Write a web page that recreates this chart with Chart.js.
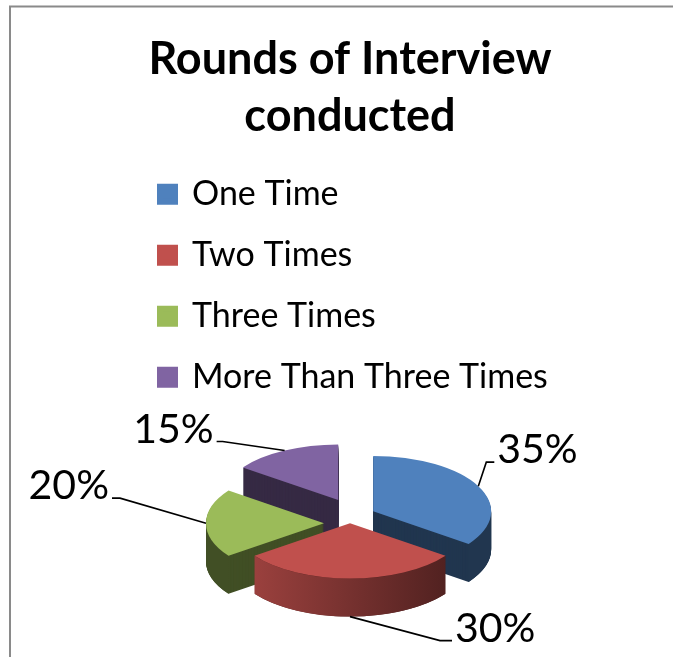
<!DOCTYPE html>
<html>
<head>
<meta charset="utf-8">
<title>Rounds of Interview conducted</title>
<script src="https://cdn.jsdelivr.net/npm/chart.js@4.4.1/dist/chart.umd.min.js"></script>
<style>
  html, body { margin: 0; padding: 0; background: #fff; }
  canvas { display: block; }
</style>
</head>
<body>
<canvas id="chart" width="673" height="657"></canvas>
<script>
// ---- data ----
const categories = ['One Time', 'Two Times', 'Three Times', 'More Than Three Times'];
const shares = [35, 30, 20, 15];
const sliceColors = ['#4f81bd', '#c0504d', '#9bbb59', '#8064a2'];
const titleLines = ['Rounds of Interview', 'conducted'];

// ---- look of the tilted pie ----
const FONT = 'Lato, "Open Sans", sans-serif';
const TILT = 0.47;          // vertical squash of the disc
const DEPTH = 38;           // thickness of the disc in px
const RADIUS = 118;
const EXPLODE = [26, 0, 26, 26];
const SIDE_SHADE = [[0.42, 0.42], [0.85, 0.38], [0.42, 0.42], [0.42, 0.42]];
const LEADERS = [
  { dx: 8, dy: -24, tail: 8 },
  { dx: 90, dy: 24, tail: 12 },
  { dx: -86, dy: -25, tail: -8 },
  { dx: -62, dy: -9, tail: -6 }
];

function shade(hex, f) {
  const n = parseInt(hex.slice(1), 16);
  const r = Math.round(((n >> 16) & 255) * f);
  const g = Math.round(((n >> 8) & 255) * f);
  const b = Math.round((n & 255) * f);
  return `rgb(${r},${g},${b})`;
}

const midAngle = arc => (arc.startAngle + arc.endAngle) / 2;

// draw one arc element through the library, squashed and shifted, with a given fill
function drawFace(ctx, arc, dx, dy, color) {
  ctx.save();
  ctx.translate(dx, dy);
  ctx.translate(0, arc.y);
  ctx.scale(1, TILT);
  ctx.translate(0, -arc.y);
  const view = Object.create(arc);
  view.options = Object.assign({}, arc.options, { backgroundColor: color, borderWidth: 0 });
  view.draw(ctx);
  ctx.restore();
}

const frame = {
  id: 'frame',
  beforeDraw(chart) {
    const ctx = chart.ctx;
    ctx.save();
    ctx.fillStyle = '#fff';
    ctx.fillRect(0, 0, chart.width, chart.height);
    ctx.strokeStyle = '#8a8a8a';
    ctx.lineWidth = 2;
    ctx.beginPath();
    ctx.moveTo(9, 6.5);
    ctx.lineTo(chart.width, 6.5);
    ctx.moveTo(10, 6);
    ctx.lineTo(10, chart.height);
    ctx.stroke();
    ctx.restore();
  }
};

const pie3d = {
  id: 'pie3d',
  beforeDatasetsDraw(chart) {
    const ctx = chart.ctx;
    const arcs = chart.getDatasetMeta(0).data;
    const order = arcs.map((a, i) => i)
      .sort((i, j) => Math.sin(midAngle(arcs[i])) - Math.sin(midAngle(arcs[j])));
    order.forEach(i => {
      const arc = arcs[i];
      const m = midAngle(arc);
      const ex = Math.cos(m) * EXPLODE[i];
      const ey = Math.sin(m) * EXPLODE[i];
      const base = sliceColors[i];
      const [lightF, darkF] = SIDE_SHADE[i];
      const R = arc.outerRadius;
      const cx = arc.x + ex, cy = arc.y + ey;

      // body of the slice: the face swept down through the disc thickness
      for (let d = DEPTH; d >= 1; d--) drawFace(ctx, arc, ex, ey + d, shade(base, darkF));

      // rounded outer wall on the front half
      const a1 = Math.max(arc.startAngle, 0);
      const a2 = Math.min(arc.endAngle, Math.PI);
      if (a2 > a1) {
        const grad = ctx.createLinearGradient(arc.x - R, 0, arc.x + R, 0);
        grad.addColorStop(0, shade(base, lightF));
        grad.addColorStop(1, shade(base, darkF));
        ctx.save();
        ctx.fillStyle = grad;
        ctx.beginPath();
        ctx.ellipse(cx, cy, R, R * TILT, 0, a1, a2, false);
        ctx.ellipse(cx, cy + DEPTH, R, R * TILT, 0, a2, a1, true);
        ctx.closePath();
        ctx.fill();
        ctx.restore();
      }

      // top face
      drawFace(ctx, arc, ex, ey, base);
    });
    return false;
  },
  // percentage labels with leader lines
  afterDraw(chart) {
    const ctx = chart.ctx;
    const arcs = chart.getDatasetMeta(0).data;
    const total = shares.reduce((s, v) => s + v, 0);
    ctx.save();
    ctx.strokeStyle = '#000';
    ctx.lineWidth = 1.6;
    ctx.fillStyle = '#000';
    ctx.font = `41px ${FONT}`;
    ctx.textBaseline = 'alphabetic';
    arcs.forEach((arc, i) => {
      const m = midAngle(arc);
      const R = arc.outerRadius;
      const ex = Math.cos(m) * EXPLODE[i];
      const ey = Math.sin(m) * EXPLODE[i];
      const ax = arc.x + ex + R * Math.cos(m);
      let ay = arc.y + ey + R * TILT * Math.sin(m);
      if (Math.sin(m) > 0.5) ay += DEPTH;
      const L = LEADERS[i];
      const bx = ax + L.dx, by = ay + L.dy;
      const tx = bx + L.tail;
      ctx.beginPath();
      ctx.moveTo(ax, ay);
      ctx.lineTo(bx, by);
      ctx.lineTo(tx, by);
      ctx.stroke();
      const right = L.tail >= 0;
      ctx.textAlign = right ? 'left' : 'right';
      const pct = Math.round(shares[i] / total * 100) + '%';
      ctx.fillText(pct, tx + (right ? 3 : -3), by + 1);
    });
    ctx.restore();
  }
};

function build() {
  new Chart(document.getElementById('chart'), {
    type: 'pie',
    data: {
      labels: categories,
      datasets: [{
        data: shares,
        backgroundColor: sliceColors,
        borderWidth: 0,
        radius: RADIUS
      }]
    },
    options: {
      responsive: false,
      animation: false,
      devicePixelRatio: 1,
      events: [],
      layout: { padding: { left: 133, right: 106, top: 0, bottom: 15 } },
      plugins: {
        title: {
          display: true,
          text: titleLines,
          color: '#000',
          font: { family: FONT, size: 45, weight: 'bold', lineHeight: 1.27 },
          padding: { top: 31, bottom: 5 }
        },
        legend: {
          position: 'top',
          align: 'start',
          labels: {
            boxWidth: 15,
            boxHeight: 15,
            padding: 27,
            color: '#000',
            font: { family: FONT, size: 34 },
            generateLabels(chart) {
              return chart.data.labels.map((text, i) => ({
                text,
                fillStyle: sliceColors[i],
                strokeStyle: sliceColors[i],
                lineWidth: 6,
                fontColor: '#000',
                hidden: false,
                index: i
              }));
            }
          }
        },
        tooltip: { enabled: false }
      }
    },
    plugins: [frame, pie3d]
  });
}

Promise.all([
  document.fonts.load(`34px Lato`),
  document.fonts.load(`bold 45px Lato`)
]).catch(() => {}).then(build);
</script>
</body>
</html>
